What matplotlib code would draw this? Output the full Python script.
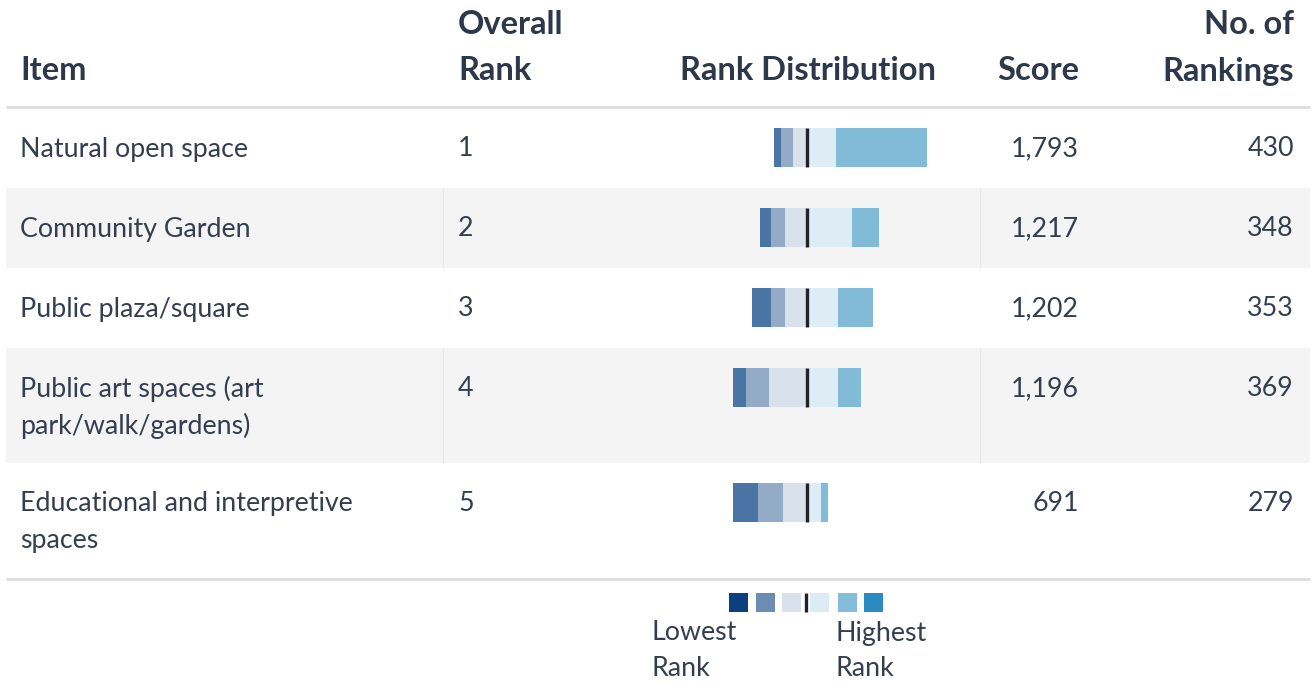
import matplotlib.pyplot as plt
import numpy as np

plt.rcParams['font.family'] = ['Lato', 'DejaVu Sans']

# Datos de la tabla
items = ['Natural open space', 'Community Garden', 'Public plaza/square',
         'Public art spaces (art\npark/walk/gardens)',
         'Educational and interpretive\nspaces']
overall_rank = [1, 2, 3, 4, 5]
score = [1793, 1217, 1202, 1196, 691]
n_rankings = [430, 348, 353, 369, 279]

# Distribucion de rankings (conteos), de menor a mayor rango
rank_lowest = [20, 31, 54, 38, 73]
rank_low = [35, 41, 41, 67, 73]
rank_midlow = [39, 63, 63, 109, 68]
rank_midhigh = [86, 132, 91, 91, 42]
rank_high = [264, 78, 102, 67, 20]
rank_highest = [0, 0, 0, 0, 0]

bar_colors = ['#4a74a4', '#94abc8', '#d9e1eb', '#deedf5', '#82bbd8', '#5ea7cf']
legend_colors = ['#0c3f80', '#6b8db3', '#d9e2ec', '#dcecf5', '#84bdd9', '#2b8bbf']

txt = '#333e4f'
hdr = '#2d394a'

W, H = 1313, 683
fig = plt.figure(figsize=(W / 100, H / 100), dpi=100)
ax = fig.add_axes([0, 0, 1, 1])
ax.set_xlim(0, W)
ax.set_ylim(H, 0)
ax.axis('off')

# Columnas
x_item, x_rank, x_score, x_count = 20, 458, 1079, 1294
x_center = 806.5
px_per_count = 1 / 2.9

# Encabezados
hs = 23.5
ax.text(x_item, 71, 'Item', fontsize=hs, fontweight='bold', color=hdr, va='center')
ax.text(x_rank, 25, 'Overall', fontsize=hs, fontweight='bold', color=hdr, va='center')
ax.text(x_rank, 71, 'Rank', fontsize=hs, fontweight='bold', color=hdr, va='center')
ax.text(x_center + 1.5, 71, 'Rank Distribution', fontsize=hs, fontweight='bold',
        color=hdr, va='center', ha='center')
ax.text(x_score, 71, 'Score', fontsize=hs, fontweight='bold', color=hdr, va='center', ha='right')
ax.text(x_count, 25, 'No. of', fontsize=hs, fontweight='bold', color=hdr, va='center', ha='right')
ax.text(x_count, 71, 'Rankings', fontsize=hs, fontweight='bold', color=hdr, va='center', ha='right')

ax.plot([6, 1310], [106.5, 106.5], color='#dedede', lw=2.2, solid_capstyle='butt')

# Filas
row_tops = []
y = 108
for it in items:
    row_tops.append(y)
    y += 80 + 34.5 * it.count('\n')
table_bottom = y

bs = 19.3
for i, it in enumerate(items):
    top = row_tops[i]
    h = 80 + 34.5 * it.count('\n')
    if i % 2 == 1:
        ax.add_patch(plt.Rectangle((6, top), 1304, h, color='#f4f4f4', lw=0, zorder=0))
        ax.plot([442.5, 442.5], [top, top + h], color='#e6e6e6', lw=0.8, zorder=1)
        ax.plot([979.5, 979.5], [top, top + h], color='#e6e6e6', lw=0.8, zorder=1)
    for j, line in enumerate(it.split('\n')):
        ax.text(x_item, top + 41 + 37 * j, line, fontsize=bs, color=txt, va='center')
    ax.text(x_rank, top + 41, str(overall_rank[i]), fontsize=bs, color=txt, va='center')
    ax.text(x_score, top + 41, f'{score[i]:,}', fontsize=bs, color=txt, va='center', ha='right')
    ax.text(x_count, top + 41, f'{n_rankings[i]:,}', fontsize=bs, color=txt, va='center', ha='right')

ax.plot([6, 1310], [table_bottom + 1.5, table_bottom + 1.5], color='#dedede', lw=2.2,
        solid_capstyle='butt')

# Barras divergentes en un eje propio (unidades = conteos)
half_px = 160
bx = fig.add_axes([(x_center - half_px) / W, 0, 2 * half_px / W, 1])
bx.set_xlim(-half_px / px_per_count, half_px / px_per_count)
bx.set_ylim(H, 0)
bx.axis('off')

yc = np.array(row_tops) + 20 + 19.5
left_parts = [rank_midlow, rank_low, rank_lowest]
left_cols = [bar_colors[2], bar_colors[1], bar_colors[0]]
acc = np.zeros(len(items))
for vals, c in zip(left_parts, left_cols):
    v = np.array(vals)
    bx.barh(yc, -v, left=-acc, height=39, color=c, lw=0)
    acc += v
right_parts = [rank_midhigh, rank_high, rank_highest]
acc = np.zeros(len(items))
for vals, c in zip(right_parts, bar_colors[3:]):
    v = np.array(vals)
    bx.barh(yc, v, left=acc, height=39, color=c, lw=0)
    acc += v
for yy in yc:
    bx.plot([0, 0], [yy - 19.5, yy + 19.5], color='#1f2328', lw=2.4, solid_capstyle='butt')

# Leyenda
leg_x = [729, 756, 782, 810, 838, 864]
for lx, c in zip(leg_x, legend_colors):
    ax.add_patch(plt.Rectangle((lx, 593), 19, 19, color=c, lw=0))
ax.plot([806, 806], [593, 612], color='#1f2328', lw=2.4, solid_capstyle='butt')
ax.text(652, 633, 'Lowest', fontsize=bs, color=txt, va='center')
ax.text(652, 669, 'Rank', fontsize=bs, color=txt, va='center')
ax.text(836, 633, 'Highest', fontsize=bs, color=txt, va='center')
ax.text(836, 669, 'Rank', fontsize=bs, color=txt, va='center')

fig.savefig('out.png', dpi=100, facecolor='white')
